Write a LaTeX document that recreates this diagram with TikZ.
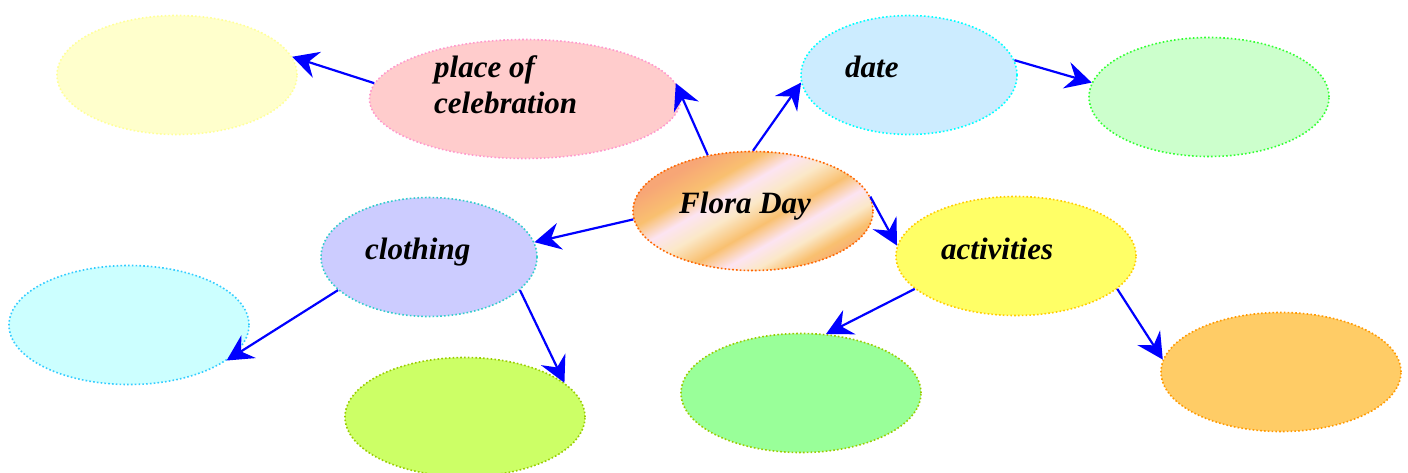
\documentclass[tikz,border=0pt]{standalone}
\usepackage{fontspec}
\setmainfont{Liberation Serif}
\usepackage{tikz}
\usetikzlibrary{arrows.meta,shapes.geometric}
\usepackage{xcolor}
\definecolor{flsalmon}{RGB}{247,166,118}
\definecolor{florange}{RGB}{249,192,112}
\definecolor{flcream}{RGB}{251,232,200}
\definecolor{flpink}{RGB}{252,228,242}
\definecolor{flborder}{RGB}{255,102,0}
\definecolor{yelfill}{RGB}{255,255,204}
\definecolor{yeldraw}{RGB}{255,255,153}
\definecolor{pinkfill}{RGB}{255,204,204}
\definecolor{pinkdraw}{RGB}{255,153,204}
\definecolor{datefill}{RGB}{204,236,255}
\definecolor{datedraw}{RGB}{0,255,255}
\definecolor{mintfill}{RGB}{204,255,204}
\definecolor{mintdraw}{RGB}{51,255,51}
\definecolor{clothfill}{RGB}{204,204,255}
\definecolor{clothdraw}{RGB}{51,204,204}
\definecolor{actsfill}{RGB}{255,255,102}
\definecolor{actsdraw}{RGB}{255,204,0}
\definecolor{icefill}{RGB}{204,255,255}
\definecolor{icedraw}{RGB}{51,204,255}
\definecolor{limefill}{RGB}{204,255,102}
\definecolor{limedraw}{RGB}{153,204,0}
\definecolor{leaffill}{RGB}{153,255,153}
\definecolor{amberfill}{RGB}{255,204,102}
\definecolor{amberdraw}{RGB}{255,153,0}
\pgfdeclarehorizontalshading{florashade}{100bp}{color(0bp)=(flsalmon); color(28bp)=(flsalmon);
    color(36bp)=(florange); color(42bp)=(flpink); color(48bp)=(flcream); color(55bp)=(florange);
    color(61bp)=(flpink); color(66bp)=(flcream); color(71bp)=(florange); color(77bp)=(flsalmon);
    color(100bp)=(flsalmon)}
\tikzset{
    bub/.style 2 args={ellipse, draw=#1, fill=#2, line width=1.6pt,
                       dash pattern=on 1.6pt off 2.2pt, inner sep=0pt,
                       minimum width=240pt, minimum height=119pt},
    lbl/.style={font=\fontsize{31}{36}\selectfont\bfseries\itshape, inner sep=0pt,
                anchor=base west, align=left},
    arr/.style={-{Stealth[length=26pt,width=27pt,inset=9pt]}, line width=2.2pt, blue},
}

\begin{document}
\begin{tikzpicture}[x=1pt,y=-1pt]
    \useasboundingbox (0,0) rectangle (1408,472);

    \node[bub={yeldraw}{yelfill}]                          (yel)    at (177,75)  {};
    \node[bub={pinkdraw}{pinkfill}, minimum width=311pt]   (place)  at (525,99)  {};
    \node[bub={datedraw}{datefill}, minimum width=216pt]   (date)   at (909,75)  {};
    \node[bub={mintdraw}{mintfill}]                        (grn1)   at (1209,97) {};
    \node[bub={flborder}{flsalmon}, shade, shading=florashade,
          shading angle=-60]                               (flora)  at (753,211) {};
    \node[bub={clothdraw}{clothfill}, minimum width=216pt] (cloth)  at (429,257) {};
    \node[bub={actsdraw}{actsfill}]                        (acts)   at (1016,256) {};
    \node[bub={icedraw}{icefill}]                          (cyan)   at (129,325) {};
    \node[bub={limedraw}{limefill}]                        (ygreen) at (465,417) {};
    \node[bub={limedraw}{leaffill}]                        (grn2)   at (801,393) {};
    \node[bub={amberdraw}{amberfill}]                      (orng)   at (1281,372) {};

    \node[lbl, anchor=west] (place-t) at (434,85) {place of\\celebration};
    \node[lbl] (date-t)  at (845,77)  {date};
    \node[lbl] (flora-t) at (679,213) {Flora Day};
    \node[lbl] (cloth-t) at (365,259) {clothing};
    \node[lbl] (acts-t)  at (941,259) {activities};

    % arrows leave the centre bubble and fan out
    \draw[arr] (place.174) -- (yel.9);
    \draw[arr] (flora.129) -- (place.6);
    \draw[arr] (flora.90)  -- (date.184);
    \draw[arr] (date.8)    -- (grn1.173);
    \draw[arr] (flora.184) -- (cloth.8);
    \draw[arr] (flora.7)   -- (acts.175);
    \draw[arr] (cloth.200) -- (cyan.340);
    \draw[arr] (cloth.340) -- (ygreen.19);
    \draw[arr] (acts.198)  -- (grn2.67);
    \draw[arr] (acts.342)  -- (orng.174);
\end{tikzpicture}
\end{document}
